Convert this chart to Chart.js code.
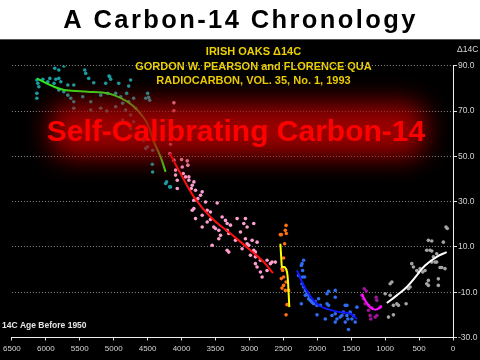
<!DOCTYPE html>
<html>
<head>
<meta charset="utf-8">
<script src="https://cdn.jsdelivr.net/npm/chart.js@4/dist/chart.umd.min.js"></script>
<style>
html,body{margin:0;padding:0;background:#000;}
#wrap{position:relative;width:480px;height:360px;}
canvas{display:block;}
</style>
</head>
<body>
<div id="wrap"><canvas id="c" width="480" height="360"></canvas></div>
<script>
// ---- text ----
const titleText = "A Carbon-14 Chronology";
const subtitleLines = ["IRISH OAKS \u039414C", "GORDON W. PEARSON and FLORENCE QUA", "RADIOCARBON, VOL. 35, No. 1, 1993"];
const bannerText = "Self-Calibrating Carbon-14";
const xAxisTitle = "14C Age Before 1950";
const yAxisTitle = "\u039414C";

// ---- axis ticks ----
const xTicks = [6500,6000,5500,5000,4500,4000,3500,3000,2500,2000,1500,1000,500,0];
const yTicks = [90,70,50,30,10,-10,-30];

// ---- scatter series (age BP, delta 14C) ----
const tealAge = [6132,6118,6044,5971,5941,5853,5809,5779,6103,6132,6132,5868,5809,5735,5676,5588,5426,5412,5368,5294,5118,5059,5044,4926,4750,4779,5809,5735,5676,5632,5588,5456,5338,5191,5088,4971,4897,4809,4868,4779,4706,4676,4500,4485,4529,4470,5588,5338,5191,5103,4971,4824,4750,4868,4706,4750,4559,4500,4426,4529,4431,4426,4235,4162,4221,4176,5878,5069];
const tealD14C = [83.7,82.2,84.0,82.9,84.4,84.0,84.4,82.9,80.7,77.8,75.6,88.9,88.1,89.9,81.5,81.5,88.1,86.6,84.4,82.5,82.2,85.1,84.0,82.2,83.7,81.0,79.3,78.5,77.0,75.6,74.1,76.3,74.1,77.0,77.8,77.8,76.3,77.8,73.4,74.1,75.6,71.2,77.8,76.0,75.6,74.8,71.2,70.4,71.2,70.0,71.9,70.4,68.2,66.0,65.2,62.3,57.1,54.2,52.7,53.5,46.5,43.1,38.0,36.5,38.7,36.5,82.2,85.4];

const pinkAge = [4162,4172,4113,4000,3916,3907,4088,4088,4063,3975,3941,3892,3892,3843,3818,3857,3794,4063,3696,3721,3760,3818,3843,3818,3647,3475,3622,3574,3794,3696,3696,3622,3574,3525,3500,3451,3402,3353,3328,3279,3426,3451,3549,3328,3304,3181,3059,3083,2936,3132,3034,3206,3059,3034,2960,2887,3328,3304,3108,3010,2936,2912,2985,2912,2838,2740,2666,2912,2887,2838,2813,2740,2691,2618,4113,4113,3990];
const pinkD14C = [55.3,51.2,48.3,48.6,48.0,46.1,43.9,41.7,39.4,42.4,40.9,40.9,39.4,37.2,38.7,35.8,35.0,35.8,34.3,32.8,31.3,30.6,26.2,26.9,29.8,29.4,26.2,25.4,22.5,24.0,18.8,21.0,22.1,18.8,18.1,17.3,23.2,21.7,20.3,19.6,15.1,13.6,10.7,17.3,15.9,22.5,22.5,20.3,20.3,16.6,18.8,12.9,13.6,11.4,12.9,12.1,8.5,7.7,9.2,10.7,8.5,7.7,6.3,5.6,4.1,4.1,3.3,2.6,1.1,-1.1,-3.3,-0.4,2.6,3.3,73.6,70.1,45.3];

const orangeAge = [2460,2471,2456,2544,2530,2481,2496,2520,2510,2496,2530,2460,2496,2520,2471,2422,2446,2460];
const orangeD14C = [19.5,17.3,15.9,15.4,15.4,11.4,5.1,0.4,-0.4,-3.3,-4.0,-5.5,-7.0,-8.2,-9.2,-9.2,-15.5,-20.0];

const blueAge = [2201,2225,2235,2216,2275,2216,2187,2225,2201,2176,2152,2128,2176,2128,2103,2078,2029,2054,2004,1956,2235,1981,1857,1834,1735,1735,1857,1834,2004,1882,1784,1735,1710,1662,1735,1588,1563,1613,1637,1563,1515,1549,1588,1490,1466,1416,1441,1540];
const blueD14C = [4.1,2.6,1.8,-0.4,-2.6,-3.3,-3.3,-6.3,-7.7,-9.2,-10.2,-11.4,-11.4,-12.9,-13.6,-14.4,-14.1,-15.1,-15.8,-15.8,-15.1,-12.9,-10.7,-9.6,-9.2,-12.2,-15.1,-15.8,-20.0,-21.8,-20.3,-19.5,-21.8,-21.0,-23.2,-15.8,-15.8,-18.8,-20.3,-20.3,-18.8,-21.8,-23.2,-21.8,-20.3,-16.6,-23.2,-26.5];

const purpleAge = [1309,1279,1343,1319,1294,1245,1196,1132,1122,1221,1147,1122,1211,1245,1074];
const purpleD14C = [-8.5,-9.5,-11.4,-12.9,-15.1,-15.8,-16.9,-12.2,-13.6,-20.3,-21.0,-20.3,-21.8,-18.0,-16.6];

const grayAge = [1000,926,901,926,951,878,878,828,804,691,657,632,608,583,534,485,387,338,313,363,313,363,363,216,216,240,191,166,118,142,103,84,240,289,412,446,510,265,313,387];
const grayD14C = [-10.7,-11.4,-5.5,-6.3,-21.0,-20.0,-15.8,-15.1,-15.8,-15.1,-8.5,-7.7,2.6,1.1,-0.4,0.4,8.5,8.5,8.2,12.9,12.6,-4.8,-7.0,-4.1,-7.0,3.3,0.9,0.9,0.4,12.1,18.8,18.1,7.0,5.6,-0.4,-1.1,-1.1,3.3,3.3,-6.3];

// ---- fitted curves (age BP, delta 14C) ----
const greenFitAge = [6132,5878,5731,5387,5166,4996,4799,4652,4505,4407,4309,4235];
const greenFitD14C = [84.4,80.7,79.3,78.5,78.2,77.0,74.1,70.4,64.5,56.4,49.7,43.1];
const redFitAge = [4172,4015,3818,3574,3279,2985,2789,2651];
const redFitD14C = [51.2,42.4,32.1,23.2,15.9,8.5,3.3,-1.6];
const yellowFitAge = [2544,2530,2520,2481,2446,2431,2412];
const yellowFitD14C = [11.4,4.8,1.1,1.1,-1.1,-5.5,-16.6];
const blueFitAge = [2299,2225,2152,2054,1956,1809,1662,1515,1416];
const blueFitD14C = [-0.4,-5.5,-9.6,-13.6,-16.2,-17.8,-18.8,-19.5,-21.8];
const magentaFitAge = [1343,1294,1221,1147,1099,1049];
const magentaFitD14C = [-10.7,-13.6,-16.6,-17.7,-17.3,-16.0];
const whiteFitAge = [975,828,681,534,412,240,93];
const whiteFitD14C = [-14.8,-11.4,-7.7,-2.6,1.8,5.6,7.7];

function pts(xs, ys){ return xs.map((x,i)=>({x:x, y:ys[i]})); }

function fit(label, xs, ys, color, tension){
  return {label, data: pts(xs, ys), showLine: true, borderColor: color, borderWidth: 2,
          pointRadius: 0, tension: tension, fill: false};
}
function dots(label, xs, ys, color){
  return {label, data: pts(xs, ys), showLine: false, backgroundColor: color, borderWidth: 0,
          pointRadius: 1.8, pointStyle: 'circle'};
}

const FONT = "'Liberation Sans', Arial, sans-serif";

const decor = {
  id: 'decor',
  beforeDraw(chart){
    const ctx = chart.ctx;
    ctx.save();
    ctx.fillStyle = '#000';
    ctx.fillRect(0,0,480,360);
    ctx.fillStyle = '#fff';
    ctx.fillRect(0,0,480,39);
    ctx.fillStyle = '#555';
    ctx.fillRect(0,39,480,1);
    ctx.fillStyle = '#000';
    ctx.font = "bold 25.5px " + FONT;
    ctx.textAlign = 'center';
    ctx.textBaseline = 'alphabetic';
    try { ctx.letterSpacing = '2.4px'; } catch(e) {}
    ctx.fillText(titleText, 240.5, 27.5);
    try { ctx.letterSpacing = '0px'; } catch(e) {}
    // subtitle lines
    ctx.fillStyle = '#ecd000';
    ctx.font = "bold 11px " + FONT;
    const base = [55, 69.5, 84.3];
    subtitleLines.forEach((t,i)=>ctx.fillText(t, 253.5, base[i]));
    // axis titles
    ctx.fillStyle = '#d8d8d8';
    ctx.font = "8.5px " + FONT;
    ctx.textAlign = 'left';
    ctx.fillText(yAxisTitle, 457, 52);
    ctx.font = "bold 8.5px " + FONT;
    ctx.fillStyle = '#e4e4e4';
    ctx.fillText(xAxisTitle, 2, 327.5);
    ctx.restore();
  },
  afterDatasetsDraw(chart){
    const ctx = chart.ctx;
    ctx.save();
    ctx.filter = 'blur(13px)';
    ctx.fillStyle = 'rgba(180,0,0,0.86)';
    ctx.beginPath();
    ctx.roundRect(50, 103, 376, 54, 20);
    ctx.fill();
    ctx.filter = 'none';
    ctx.fillStyle = '#ff0000';
    ctx.font = "bold 30px " + FONT;
    ctx.textAlign = 'center';
    ctx.textBaseline = 'alphabetic';
    ctx.fillText(bannerText, 236, 140.5);
    ctx.restore();
  }
};

new Chart(document.getElementById('c'), {
  type: 'scatter',
  data: {
    datasets: [
      fit('Green fit', greenFitAge, greenFitD14C, '#30e820', 0.4),
      fit('Red fit', redFitAge, redFitD14C, '#ff1010', 0.4),
      fit('Yellow fit', yellowFitAge, yellowFitD14C, '#ffff00', 0.15),
      fit('Blue fit', blueFitAge, blueFitD14C, '#1018ff', 0.4),
      fit('Magenta fit', magentaFitAge, magentaFitD14C, '#ff10ff', 0.4),
      fit('White fit', whiteFitAge, whiteFitD14C, '#ffffff', 0.4),
      dots('Irish oaks 1', tealAge, tealD14C, '#1a9ea2'),
      dots('Irish oaks 2', pinkAge, pinkD14C, '#ff9fd0'),
      dots('Irish oaks 3', orangeAge, orangeD14C, '#ff7010'),
      dots('Irish oaks 4', blueAge, blueD14C, '#2f6cf2'),
      dots('Irish oaks 5', purpleAge, purpleD14C, '#a0149c'),
      dots('Irish oaks 6', grayAge, grayD14C, '#a4a4a4')
    ]
  },
  options: {
    responsive: false,
    animation: false,
    events: [],
    layout: { padding: { left: 11, top: 65.7, right: 0, bottom: 0 } },
    plugins: { legend: { display: false }, tooltip: { enabled: false }, title: { display: false } },
    scales: {
      x: {
        type: 'linear', position: 'bottom', reverse: true, min: 0, max: 6500,
        afterFit(s){ s.height = 22.5; },
        afterBuildTicks(s){ s.ticks = xTicks.map(v=>({value:v})); },
        grid: { drawOnChartArea: false, drawTicks: true, tickLength: 3, tickColor: '#e0e0e0' },
        border: { display: true, color: '#f0f0f0', width: 1 },
        ticks: { autoSkip: false, maxRotation: 0, padding: 3, color: '#d4d4d4',
                 font: { family: FONT, size: 8 }, callback: v => String(v) }
      },
      y: {
        type: 'linear', position: 'right', min: -30, max: 90,
        afterFit(s){ s.width = 27; },
        afterBuildTicks(s){ s.ticks = yTicks.map(v=>({value:v})); },
        grid: { drawOnChartArea: true, drawTicks: true, tickLength: 4, color: '#8a8a8a',
                tickColor: '#e0e0e0', lineWidth: 1 },
        border: { display: true, color: '#f0f0f0', width: 1, dash: [1,2] },
        ticks: { padding: 1, color: '#d4d4d4', font: { family: FONT, size: 8.5 },
                 callback: v => Number(v).toFixed(1) }
      }
    }
  },
  plugins: [decor]
});
</script>
</body>
</html>
